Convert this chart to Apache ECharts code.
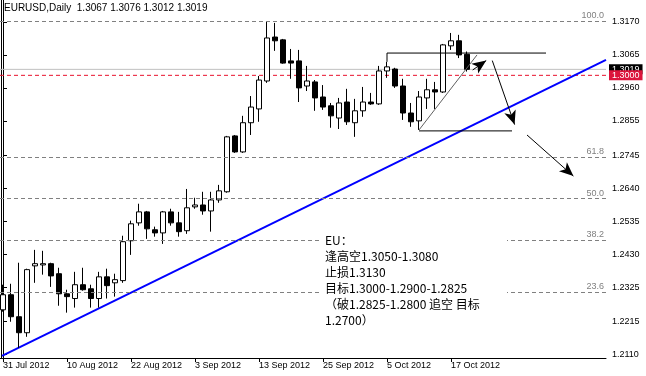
<!DOCTYPE html>
<html><head><meta charset="utf-8">
<script src="https://cdn.jsdelivr.net/npm/echarts@6/dist/echarts.min.js"></script>
<style>html,body{margin:0;padding:0;background:#fff}#c{width:646px;height:376px}</style>
</head><body><div id="c"></div>
<script>
const titleText = 'EURUSD,Daily  1.3067 1.3076 1.3012 1.3019';
const dates = ['2012-07-31','2012-08-01','2012-08-02','2012-08-03','2012-08-06','2012-08-07','2012-08-08','2012-08-09','2012-08-10',
'2012-08-13','2012-08-14','2012-08-15','2012-08-16','2012-08-17','2012-08-20','2012-08-21','2012-08-22','2012-08-23','2012-08-24',
'2012-08-27','2012-08-28','2012-08-29','2012-08-30','2012-08-31','2012-09-03','2012-09-04','2012-09-05','2012-09-06','2012-09-07',
'2012-09-10','2012-09-11','2012-09-12','2012-09-13','2012-09-14','2012-09-17','2012-09-18','2012-09-19','2012-09-20','2012-09-21',
'2012-09-24','2012-09-25','2012-09-26','2012-09-27','2012-09-28','2012-10-01','2012-10-02','2012-10-03','2012-10-04','2012-10-05',
'2012-10-08','2012-10-09','2012-10-10','2012-10-11','2012-10-12','2012-10-15','2012-10-16','2012-10-17','2012-10-18','2012-10-19'];
const opens = [1.2253,1.2301,1.2231,1.2180,1.2393,1.2396,1.2400,1.2368,1.2304,1.2289,1.2333,1.2320,1.2289,1.2358,1.2339,1.2346,1.2473,1.2530,1.2565,1.2508,
1.2498,1.2565,1.2530,1.2505,1.2581,1.2587,1.2568,1.2603,1.2629,1.2807,1.2756,1.2849,1.2893,1.2982,1.3122,1.3113,1.3046,1.3046,1.2966,1.2979,
1.2931,1.2903,1.2864,1.2915,1.2849,1.2887,1.2915,1.2909,1.3014,1.3020,1.2966,1.2880,1.2855,1.2928,1.2954,1.2947,1.3094,1.3110,1.3067];
const closes = [1.2301,1.2231,1.2180,1.2381,1.2400,1.2400,1.2361,1.2304,1.2295,1.2333,1.2317,1.2289,1.2358,1.2330,1.2349,1.2470,1.2527,1.2565,1.2511,1.2498,
1.2565,1.2530,1.2502,1.2578,1.2587,1.2568,1.2603,1.2632,1.2804,1.2756,1.2849,1.2899,1.2985,1.3119,1.3110,1.3039,1.3039,1.2960,1.2982,1.2928,
1.2899,1.2871,1.2912,1.2852,1.2887,1.2915,1.2909,1.3014,1.3027,1.2966,1.2880,1.2852,1.2931,1.2954,1.2947,1.3097,1.3110,1.3065,1.3019];
const lows = [1.2247,1.2215,1.2132,1.2167,1.2339,1.2365,1.2326,1.2266,1.2244,1.2260,1.2314,1.2260,1.2260,1.2289,1.2295,1.2339,1.2428,1.2521,1.2479,1.2486,
1.2463,1.2521,1.2486,1.2495,1.2575,1.2556,1.2502,1.2594,1.2626,1.2753,1.2753,1.2810,1.2852,1.2976,1.3078,1.3037,1.2989,1.2915,1.2950,1.2887,
1.2890,1.2833,1.2829,1.2842,1.2804,1.2868,1.2906,1.2906,1.2992,1.2960,1.2858,1.2836,1.2826,1.2893,1.2893,1.2944,1.3081,1.3055,1.3012];
const highs = [1.2333,1.2336,1.2403,1.2384,1.2444,1.2441,1.2403,1.2387,1.2317,1.2374,1.2387,1.2333,1.2374,1.2384,1.2368,1.2489,1.2537,1.2591,1.2568,1.2518,
1.2568,1.2575,1.2565,1.2638,1.2610,1.2629,1.2629,1.2651,1.2807,1.2810,1.2871,1.2934,1.2998,1.3170,1.3167,1.3116,1.3084,1.3081,1.3030,1.2985,
1.2969,1.2912,1.2928,1.2957,1.2925,1.2963,1.2944,1.3030,1.3043,1.3024,1.2989,1.2912,1.2950,1.2989,1.2979,1.3100,1.3135,1.3129,1.3076];

const xTickIdx = [0,8,16,24,32,40,48,56];
const xTickLabels = ['31 Jul 2012','10 Aug 2012','22 Aug 2012','3 Sep 2012','13 Sep 2012','25 Sep 2012','5 Oct 2012','17 Oct 2012'];
const yTicks = [1.3170,1.3065,1.2960,1.2855,1.2745,1.2640,1.2535,1.2430,1.2325,1.2215,1.2110];

const fibNames = ['100.0','61.8','50.0','38.2','23.6'];
const fibPrices = [1.3172,1.2740,1.2607,1.2474,1.2309];
const bidPrice = 1.3019;
const alertPrice = 1.3000;
const xSpan = [-0.375, 75.375];

const trendLine = [[-0.125,1.2106],[75.375,1.3049]];
const upperLine = [[48,1.3043],[48,1.3071],[67.875,1.3071]];
const lowerLine = [[52,1.2823],[63.625,1.2823]];
const fanLine = [[52,1.2826],[59.25,1.3065]];
const arrows = [
  [[58.71,1.3017],[60.4,1.3047]],
  [[61.16,1.3047],[63.95,1.2843]],
  [[65.5,1.2810],[71.3,1.2679]]
];
const noteLines = ['EU：','逢高空1.3050-1.3080','止损1.3130','目标1.3000-1.2900-1.2825','（破1.2825-1.2800 追空 目标','1.2700）'];

const FONT = '"Liberation Sans", Arial, sans-serif';
const chart = echarts.init(document.getElementById('c'), null, {renderer:'canvas'});

const candleData = dates.map((d,i)=>[i, opens[i], closes[i], lows[i], highs[i]]);

const candleMarks = fibPrices.map((p,k)=>({yAxis:p, lineStyle:{color:'#808080', type:[4,3], width:1},
    label:{show:true, position:'insideEndTop', formatter:fibNames[k], color:'#808080', fontSize:9, fontFamily:FONT, distance:[2,1]}}));
candleMarks.push({yAxis:bidPrice, lineStyle:{color:'rgba(0,0,0,0)', width:1, type:'solid'},
  label:{show:true, position:'end', formatter:bidPrice.toFixed(4), color:'#fff', backgroundColor:'#000', padding:[1,3,0,3], fontSize:9, fontFamily:FONT, distance:3}});
candleMarks.push({yAxis:alertPrice, lineStyle:{color:'rgba(0,0,0,0)', width:1, type:'solid'},
  label:{show:true, position:'end', formatter:alertPrice.toFixed(4), color:'#fff', backgroundColor:'#dc143c', padding:[1,3,0,3], fontSize:9, fontFamily:FONT, distance:3}});

const arrowMarks = arrows.map(a=>[{coord:a[0], symbol:'none'},
  {coord:a[1], symbol:'arrow', symbolSize:[9,14]}]);

const option = {
  animation:false,
  backgroundColor:'#fff',
  title:{text:titleText, left:4, top:3, padding:0, textStyle:{fontSize:10, fontWeight:'normal', color:'#000', fontFamily:FONT}},
  grid:{left:0, right:40, top:0, bottom:18, outerBoundsMode:'none'},
  xAxis:{type:'value', min:xSpan[0], max:xSpan[1],
    axisLine:{show:true, lineStyle:{color:'#000', width:1}},
    axisTick:{show:true, length:4, customValues:xTickIdx, lineStyle:{color:'#000'}},
    axisLabel:{show:true, customValues:xTickIdx, formatter:v=>xTickLabels[xTickIdx.indexOf(Math.round(v))], align:'left', margin:3, fontSize:9, color:'#000', fontFamily:FONT},
    splitLine:{show:false}},
  yAxis:[
    {type:'value', position:'right', min:1.20995, max:1.3240,
      axisLine:{show:true, lineStyle:{color:'#000', width:1}},
      axisTick:{show:true, length:4, customValues:yTicks, lineStyle:{color:'#000'}},
      axisLabel:{show:true, customValues:yTicks, formatter:v=>Number(v).toFixed(4), margin:6, fontSize:9, color:'#000', fontFamily:FONT},
      splitLine:{show:false}},
    {type:'value', position:'left', offset:-1, min:1.20995, max:1.3240,
      axisLine:{show:true, lineStyle:{color:'#000', width:1}},
      axisTick:{show:false}, axisLabel:{show:false}, splitLine:{show:false}}
  ],
  series:[
    {type:'line', data:[[xSpan[0],bidPrice],[xSpan[1],bidPrice]], symbol:'none', silent:true, z:1,
      lineStyle:{color:'#c0c0c0', width:1, type:'solid'}},
    {type:'line', data:[[xSpan[0],alertPrice],[xSpan[1],alertPrice]], symbol:'none', silent:true, z:2,
      lineStyle:{color:'#e8112d', width:1, type:[4,3]}},
    {type:'line', data:trendLine, symbol:'none', silent:true, z:2,
      lineStyle:{color:'#0000ff', width:2}},
    {type:'candlestick', data:candleData, encode:{x:0, y:[1,2,3,4]}, barWidth:5, silent:true, z:3,
      itemStyle:{color:'#fff', color0:'#000', borderColor:'#000', borderColor0:'#000', borderWidth:1},
      markLine:{silent:true, symbol:['none','none'], precision:4, animation:false, data:candleMarks}},
    {type:'line', data:upperLine, symbol:'none', silent:true, z:4, lineStyle:{color:'#000', width:1}},
    {type:'line', data:lowerLine, symbol:'none', silent:true, z:4, lineStyle:{color:'#000', width:1}},
    {type:'line', data:fanLine, symbol:'none', silent:true, z:4, lineStyle:{color:'#606060', width:1},
      markLine:{silent:true, symbol:['none','none'], precision:4, animation:false,
        lineStyle:{color:'#000', width:1, type:'solid'}, itemStyle:{color:'#000'}, label:{show:false},
        data:arrowMarks}}
  ],
  graphic:[{type:'text', left:322, top:232, silent:true, z:100,
    style:{text:noteLines.join('\n'), fontSize:12, fontFamily:'"Noto Sans CJK SC", sans-serif', fill:'#000', lineHeight:16,
      backgroundColor:'#fff', padding:[0,0,0,3], width:182}}]
};
chart.setOption(option);
</script></body></html>
